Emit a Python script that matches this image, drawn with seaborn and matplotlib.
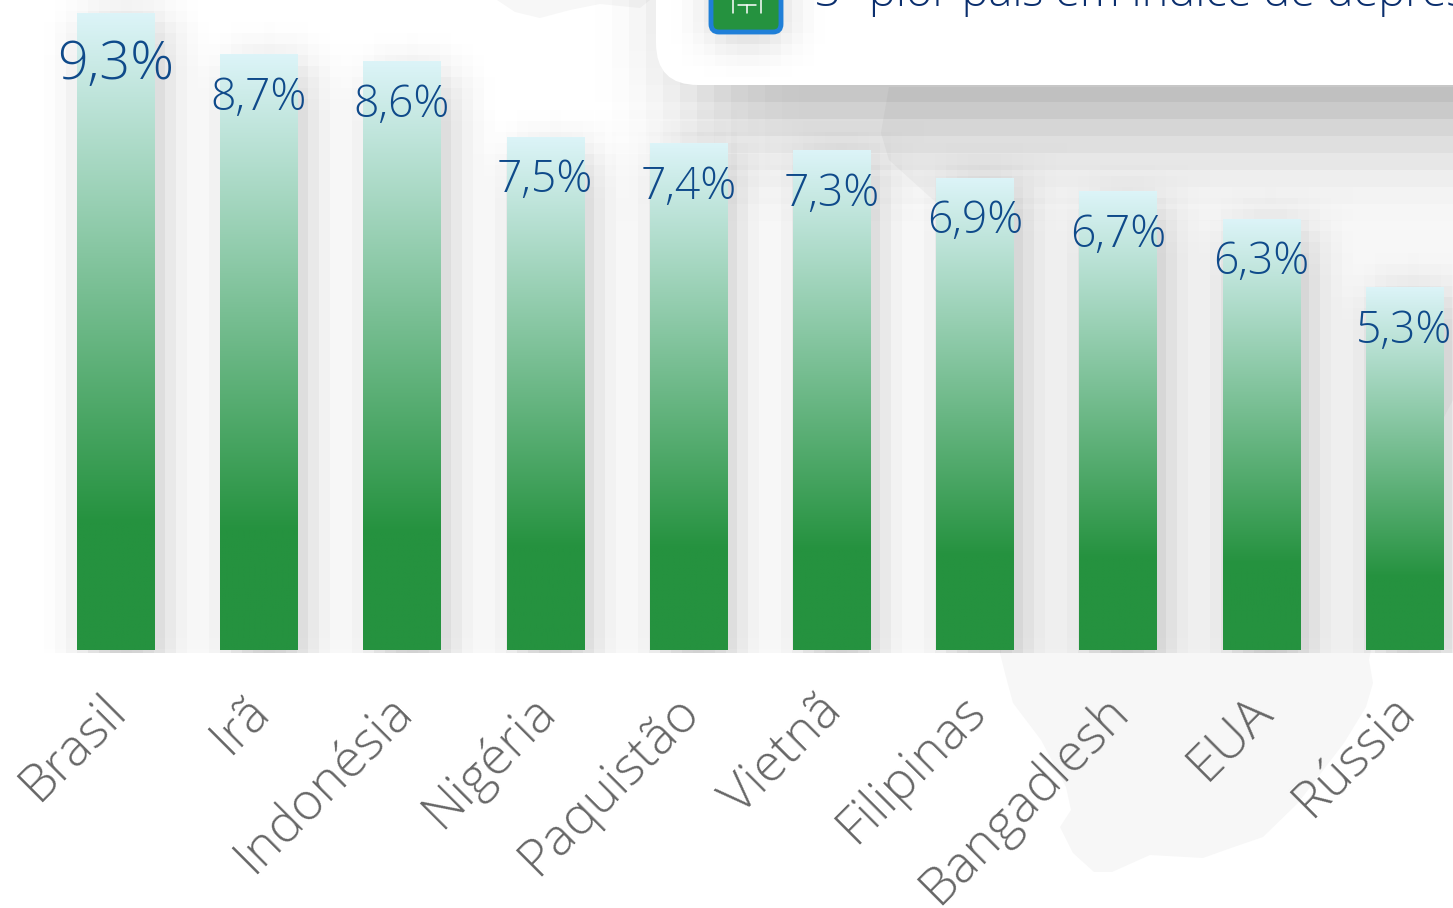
import numpy as np
import pandas as pd
import matplotlib
matplotlib.use("Agg")
import matplotlib.pyplot as plt
import seaborn as sns
from matplotlib.patches import FancyBboxPatch, Polygon
from matplotlib.transforms import ScaledTranslation

# values
paises = ["Brasil", "Irã", "Indonésia", "Nigéria", "Paquistão",
          "Vietnã", "Filipinas", "Bangadlesh", "EUA", "Rússia"]
valores = [9.3, 8.7, 8.6, 7.5, 7.4, 7.3, 6.9, 6.7, 6.3, 5.3]
rotulos = ["9,3%", "8,7%", "8,6%", "7,5%", "7,4%", "7,3%", "6,9%", "6,7%", "6,3%", "5,3%"]
titulo = "3º pior país em índice de depressão"

W, H = 1453, 908
BASE = 650
VERDE = "#25923f"
CLARO = "#dcf4f8"
AZUL = "#0f4a8a"
FONTE = ["Open Sans", "DejaVu Sans"]
X0 = 115.6

sns.set_theme(style="white")
plt.rcParams["font.family"] = FONTE


def blur(a, r):
    """Box blur, two passes per axis."""
    k = np.ones(2 * r + 1) / (2 * r + 1)
    for _ in range(2):
        a = np.apply_along_axis(lambda v: np.convolve(v, k, mode="same"), 0, a)
        a = np.apply_along_axis(lambda v: np.convolve(v, k, mode="same"), 1, a)
    return a


def sombra(rects, cell, raio, forca):
    """Blocky shadow, blurred on a coarse grid like the jpeg-ish original."""
    pad = 30
    g = np.zeros((H // cell + 1 + 2 * pad, W // cell + 1 + 2 * pad))
    for x0, y0, x1, y1 in rects:
        g[max(int(y0 / cell) + pad, 0):int(y1 / cell) + pad,
          max(int(x0 / cell) + pad, 0):int(x1 / cell) + pad] = 1
    g = blur(g, raio)[pad:-pad, pad:-pad] * forca
    return np.repeat(np.repeat(g, cell, axis=0), cell, axis=1)[:H, :W]


fig = plt.figure(figsize=(W / 100, H / 100), dpi=100, facecolor="white")

# background layer, in pixel coordinates
bg = fig.add_axes([0, 0, 1, 1], zorder=0)
bg.set_xlim(0, W)
bg.set_ylim(H, 0)
bg.axis("off")

mapa = [(889, 87), (881, 133), (889, 160), (930, 197), (975, 235), (1000, 300),
        (1000, 653), (1006, 677), (1013, 703), (1041, 740), (1066, 787), (1071, 810),
        (1060, 827), (1073, 853), (1094, 872), (1112, 872), (1150, 855), (1203, 858),
        (1231, 848), (1263, 837), (1298, 803), (1344, 743), (1366, 707), (1373, 683),
        (1369, 660), (1400, 500), (1453, 400), (1453, 87)]
bg.add_patch(Polygon(mapa, closed=True, fc="#f7f7f7", ec="none", zorder=1))
topo = [(497, 0), (515, 12), (540, 18), (570, 10), (600, 4), (640, 8), (650, 0)]
bg.add_patch(Polygon(topo, closed=True, fc="#f7f7f7", ec="none", zorder=1))

# main bars
df = pd.DataFrame({"pais": paises, "valor": valores})
ax = fig.add_axes([0, 1 - BASE / H, 1, BASE / H], zorder=2)
ax.patch.set_alpha(0)
sns.barplot(data=df, x="pais", y="valor", width=0.54, color=VERDE, ax=ax)
ax.set_xlim(-X0 / 143.2, (W - X0) / 143.2)
ax.set_ylim(0, BASE / 68.4)
sns.despine(ax=ax, left=True, bottom=True)
ax.set_xlabel("")
ax.set_ylabel("")
ax.set_yticks([])
ax.tick_params(axis="x", length=0)
ax.set_xticks(range(len(paises)))
ax.set_xticklabels(paises, rotation=45, ha="right", rotation_mode="anchor",
                   fontsize=37.5, fontweight=300, color="#666666")
desloc = ScaledTranslation(-15 / 100, -30 / 100, fig.dpi_scale_trans)
for t in ax.get_xticklabels():
    t.set_transform(t.get_transform() + desloc)

# gradient fill, light on top, solid green from 80% of the bar down
c0 = np.array(matplotlib.colors.to_rgb(CLARO))
c1 = np.array(matplotlib.colors.to_rgb(VERDE))
f = np.clip(np.linspace(0, 1, 256) / 0.8, 0, 1)[:, None, None]
grad = c0[None, None, :] * (1 - f) + c1[None, None, :] * f
rects = []
for p in ax.patches:
    x, w, h = p.get_x(), p.get_width(), p.get_height()
    p.set_facecolor("none")
    p.set_edgecolor("none")
    ax.imshow(grad, extent=[x, x + w, 0, h], aspect="auto", origin="upper",
              zorder=3, interpolation="bilinear")
    (px0, py1), (px1, py0) = ax.transData.transform([(x, 0), (x + w, h)])
    rects.append((px0 + 14, H - py0 + 18, px1 + 14, H - py1 + 40))
ax.set_xlim(-X0 / 143.2, (W - X0) / 143.2)
ax.set_ylim(0, BASE / 68.4)

# shadows
s_bar = sombra(rects, 11, 2, 0.22)
s_bar[653:, :] = 0
s_card = sombra([(700, -200, 1900, 125)], 17, 3, 0.32)
s_icon = sombra([(715, -20, 790, 42)], 11, 2, 0.30)
alfa = 1 - (1 - s_bar) * (1 - s_card)
preto = np.zeros((H, W, 4))
preto[..., 3] = alfa
bg.imshow(preto, extent=[0, W, H, 0], aspect="auto", zorder=2, interpolation="nearest")

# card on top, with the icon and the cut title
bg.add_patch(FancyBboxPatch((656, -200), 1000, 285, boxstyle="round,pad=0,rounding_size=42",
                            fc="white", ec="none", zorder=3))
icone = np.zeros((H, W, 4))
icone[..., 3] = s_icon
bg.imshow(icone, extent=[0, W, H, 0], aspect="auto", zorder=3.5, interpolation="nearest")
bg.add_patch(FancyBboxPatch((711, -30), 70, 62, boxstyle="round,pad=0,rounding_size=8",
                            fc=VERDE, ec="#1f7fd8", lw=3.5, zorder=4))
bg.plot([733, 733, 761, 761], [13, -2, -2, 13], color="white", lw=1.1, zorder=5)
bg.plot([738, 756], [5, 5], color="white", lw=1.1, zorder=5)
bg.plot([747, 747], [5, 13], color="white", lw=1.1, zorder=5)
bg.set_xlim(0, W)
bg.set_ylim(H, 0)
bg.text(815, 6, titulo, fontsize=32.5, fontweight=300, color="#0b2f6e",
        ha="left", va="baseline", zorder=5, clip_on=False)

# value labels
tamanhos = [39, 32, 32, 32, 32, 32, 32, 32, 32, 32]
for i, (p, r) in enumerate(zip(ax.patches, rotulos)):
    ax.annotate(r, (p.get_x() + p.get_width() / 2, p.get_height()),
                xytext=(0, -(51 if i == 0 else 44) * 0.72), textcoords="offset points",
                ha="center", va="center", fontsize=tamanhos[i], fontweight=300,
                color=AZUL, zorder=6)

fig.savefig("out.png", dpi=100)
